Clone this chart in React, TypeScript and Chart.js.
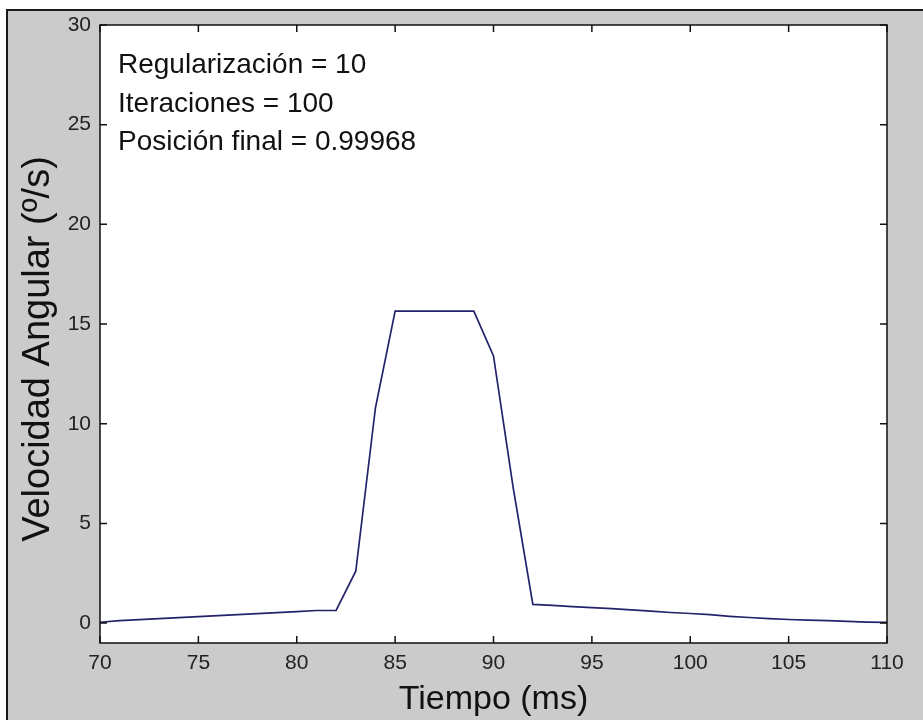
import React, { useEffect, useRef } from "react";
import { Chart, registerables } from "chart.js";

Chart.register(...registerables);

// ---- data ----
const TIME_MS = [
  70, 71, 72, 73, 74, 75, 76, 77, 78, 79, 80, 81, 82, 83, 84, 85, 86, 87, 88, 89, 90, 91, 92, 93,
  94, 95, 96, 97, 98, 99, 100, 101, 102, 103, 104, 105, 106, 107, 108, 109, 110,
];
const VELOCITY = [
  0.04, 0.12, 0.17, 0.22, 0.27, 0.32, 0.37, 0.42, 0.47, 0.52, 0.57, 0.63, 0.64, 2.6, 10.8, 15.65,
  15.65, 15.65, 15.65, 15.65, 13.4, 6.8, 0.94, 0.89, 0.82, 0.77, 0.72, 0.66, 0.6, 0.53, 0.48,
  0.42, 0.34, 0.28, 0.22, 0.18, 0.15, 0.12, 0.08, 0.05, 0.03,
];
const X_TICKS = [70, 75, 80, 85, 90, 95, 100, 105, 110];
const Y_TICKS = [0, 5, 10, 15, 20, 25, 30];
const X_LIMITS = [70, 110];
const Y_LIMITS = [-1, 30];
const X_TITLE = "Tiempo (ms)";
const Y_TITLE = "Velocidad Angular (º/s)";
const ANNOTATION_LINES = [
  "Regularización = 10",
  "Iteraciones = 100",
  "Posición final = 0.99968",
];

const FONT = "'Liberation Sans', Arial, Helvetica, sans-serif";
const FIG_GRAY = "rgb(203,203,203)";

const figurePlugin = {
  id: "figure",
  beforeDraw(chart: any) {
    const { ctx, width, height, chartArea } = chart;
    ctx.save();
    ctx.fillStyle = "#ffffff";
    ctx.fillRect(0, 0, width, height);
    ctx.fillStyle = FIG_GRAY;
    ctx.fillRect(7, 10, width - 7, height - 10);
    ctx.strokeStyle = "#1a1a1a";
    ctx.lineWidth = 2;
    ctx.beginPath();
    ctx.moveTo(7, height);
    ctx.lineTo(7, 10);
    ctx.lineTo(width, 10);
    ctx.stroke();
    ctx.fillStyle = "#ffffff";
    ctx.fillRect(
      chartArea.left,
      chartArea.top,
      chartArea.right - chartArea.left,
      chartArea.bottom - chartArea.top
    );
    ctx.restore();
  },
  afterDatasetsDraw(chart: any) {
    const { ctx, chartArea, scales } = chart;
    const { left, right, top, bottom } = chartArea;
    const TL = 7;
    ctx.save();
    ctx.strokeStyle = "#111111";
    ctx.lineWidth = 1.5;
    ctx.beginPath();
    ctx.rect(left, top, right - left, bottom - top);
    ctx.stroke();
    ctx.beginPath();
    for (const v of X_TICKS) {
      const x = scales.x.getPixelForValue(v);
      ctx.moveTo(x, bottom);
      ctx.lineTo(x, bottom - TL);
      ctx.moveTo(x, top);
      ctx.lineTo(x, top + TL);
    }
    for (const v of Y_TICKS) {
      const y = scales.y.getPixelForValue(v);
      ctx.moveTo(left, y);
      ctx.lineTo(left + TL, y);
      ctx.moveTo(right, y);
      ctx.lineTo(right - TL, y);
    }
    ctx.stroke();

    // annotation text
    ctx.fillStyle = "#111111";
    ctx.font = `28px ${FONT}`;
    ctx.textAlign = "left";
    ctx.textBaseline = "alphabetic";
    const baseX = left + 18;
    const baseY = top + 48;
    ANNOTATION_LINES.forEach((t, i) => {
      ctx.fillText(t, baseX, baseY + i * 38.5);
    });

    // y-axis title (rotated)
    ctx.font = `38px ${FONT}`;
    ctx.textAlign = "center";
    ctx.textBaseline = "alphabetic";
    ctx.translate(49, (top + bottom) / 2 + 15);
    ctx.rotate(-Math.PI / 2);
    ctx.fillText(Y_TITLE, 0, 0);
    ctx.restore();
  },
};

export default function App() {
  const ref = useRef<HTMLCanvasElement | null>(null);

  useEffect(() => {
    if (!ref.current) return;
    const chart = new Chart(ref.current, {
      type: "line",
      data: {
        datasets: [
          {
            data: TIME_MS.map((t, i) => ({ x: t, y: VELOCITY[i] })),
            borderColor: "#23236b",
            borderWidth: 1.7,
            pointRadius: 0,
            tension: 0,
            fill: false,
          },
        ],
      },
      options: {
        responsive: false,
        animation: false,
        devicePixelRatio: 1,
        events: [],
        layout: { padding: { left: 0, top: 25, right: 36, bottom: 0 } },
        plugins: { legend: { display: false }, tooltip: { enabled: false } },
        scales: {
          x: {
            type: "linear",
            min: X_LIMITS[0],
            max: X_LIMITS[1],
            afterBuildTicks: (scale: any) => {
              scale.ticks = X_TICKS.map((v) => ({ value: v }));
            },
            afterFit: (scale: any) => {
              scale.height = 77;
            },
            grid: { display: false, drawTicks: false },
            border: { display: false },
            ticks: {
              padding: 8,
              color: "#222222",
              font: { family: FONT, size: 21 },
              maxRotation: 0,
              autoSkip: false,
            },
            title: {
              display: true,
              text: X_TITLE,
              color: "#111111",
              font: { family: FONT, size: 34 },
              padding: { top: 0, bottom: 0 },
            },
          },
          y: {
            type: "linear",
            min: Y_LIMITS[0],
            max: Y_LIMITS[1],
            afterBuildTicks: (scale: any) => {
              scale.ticks = Y_TICKS.map((v) => ({ value: v }));
            },
            afterFit: (scale: any) => {
              scale.width = 100;
            },
            grid: { display: false, drawTicks: false },
            border: { display: false },
            ticks: {
              padding: 9,
              color: "#222222",
              font: { family: FONT, size: 21 },
              autoSkip: false,
            },
            title: { display: false },
          },
        },
      },
      plugins: [figurePlugin],
    });
    return () => chart.destroy();
  }, []);

  return (
    <div style={{ position: "absolute", left: 0, top: 0, width: 923, height: 720 }}>
      <canvas ref={ref} width={923} height={720} style={{ display: "block" }} />
    </div>
  );
}
